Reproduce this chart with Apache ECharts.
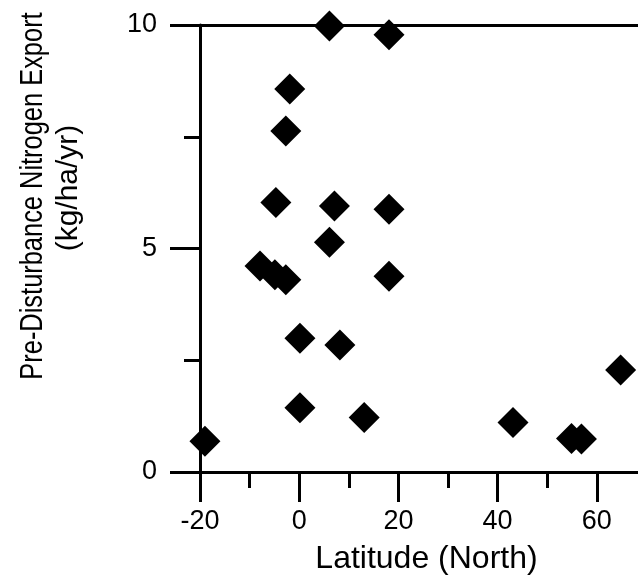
<!DOCTYPE html>
<html>
<head>
<meta charset="utf-8">
<style>html,body{margin:0;padding:0;background:#fff;overflow:hidden;width:638px;height:583px;}#chart{width:710px;height:583px;}</style>
<script src="https://cdn.jsdelivr.net/npm/echarts@6/dist/echarts.min.js"></script>
</head>
<body>
<div id="chart"></div>
<script>
const latitude = [-19.0, -7.9, -4.9, -2.7, -4.7, -2.7, -1.9, 6.1, 18.1, 7.1, 18.1, 6.1, 18.1, 0.15, 8.2, 0.15, 13.1, 43.1, 54.9, 56.9, 64.8];
const nExport = [0.69, 4.61, 4.41, 4.30, 6.03, 7.63, 8.57, 9.98, 9.78, 5.95, 5.88, 5.14, 4.38, 2.99, 2.84, 1.44, 1.22, 1.11, 0.75, 0.74, 2.28];
const xTitle = 'Latitude (North)';
const yTitle1 = 'Pre-Disturbance Nitrogen Export';
const yTitle2 = '(kg/ha/yr)';

const font = "'Liberation Sans', Arial, sans-serif";

const chart = echarts.init(document.getElementById('chart'), null, {renderer: 'canvas'});
const lineStyle = {color: '#000', width: 3};
chart.setOption({
  animation: false,
  backgroundColor: '#fff',
  grid: {left: 200, top: 25, bottom: 111, right: 14, containLabel: false},
  xAxis: [{
    type: 'value', min: -20, max: 80, interval: 20, position: 'bottom',
    axisLine: {show: true, onZero: false, lineStyle: lineStyle},
    axisTick: {show: true, inside: false, length: 30, lineStyle: lineStyle},
    minorTick: {show: true, splitNumber: 2, length: 16, lineStyle: lineStyle},
    splitLine: {show: false},
    axisLabel: {color: '#000', fontSize: 27, fontFamily: font, margin: 36, showMaxLabel: false},
    name: xTitle, nameLocation: 'middle', nameGap: 71,
    nameTextStyle: {color: '#000', fontSize: 32, fontFamily: font, padding: [0, 43, 0, 0]}
  }, {
    type: 'value', min: -20, max: 80, interval: 20, position: 'top',
    axisLine: {show: true, onZero: false, lineStyle: lineStyle},
    axisTick: {show: false}, axisLabel: {show: false}, splitLine: {show: false}
  }],
  yAxis: {
    type: 'value', min: 0, max: 10, interval: 5,
    axisLine: {show: true, onZero: false, lineStyle: lineStyle},
    axisTick: {show: true, inside: false, length: 30, lineStyle: lineStyle},
    minorTick: {show: true, splitNumber: 2, length: 16, lineStyle: lineStyle},
    splitLine: {show: false},
    axisLabel: {color: '#000', fontSize: 27, fontFamily: font, margin: 43}
  },
  graphic: [{
    type: 'text', x: 33, y: 196, rotation: Math.PI / 2, scaleX: 0.82, scaleY: 1,
    style: {text: yTitle1, fill: '#000', fontSize: 31, fontFamily: font, textAlign: 'center', textVerticalAlign: 'middle'}
  }, {
    type: 'text', x: 69, y: 188, rotation: Math.PI / 2,
    style: {text: yTitle2, fill: '#000', fontSize: 30, fontFamily: font, textAlign: 'center', textVerticalAlign: 'middle'}
  }],
  series: [{
    type: 'scatter', xAxisIndex: 0,
    data: latitude.map((x, i) => [x, nExport[i]]),
    symbol: 'diamond', symbolSize: 31, clip: false,
    itemStyle: {color: '#000', opacity: 1}
  }]
});
</script>
</body>
</html>
